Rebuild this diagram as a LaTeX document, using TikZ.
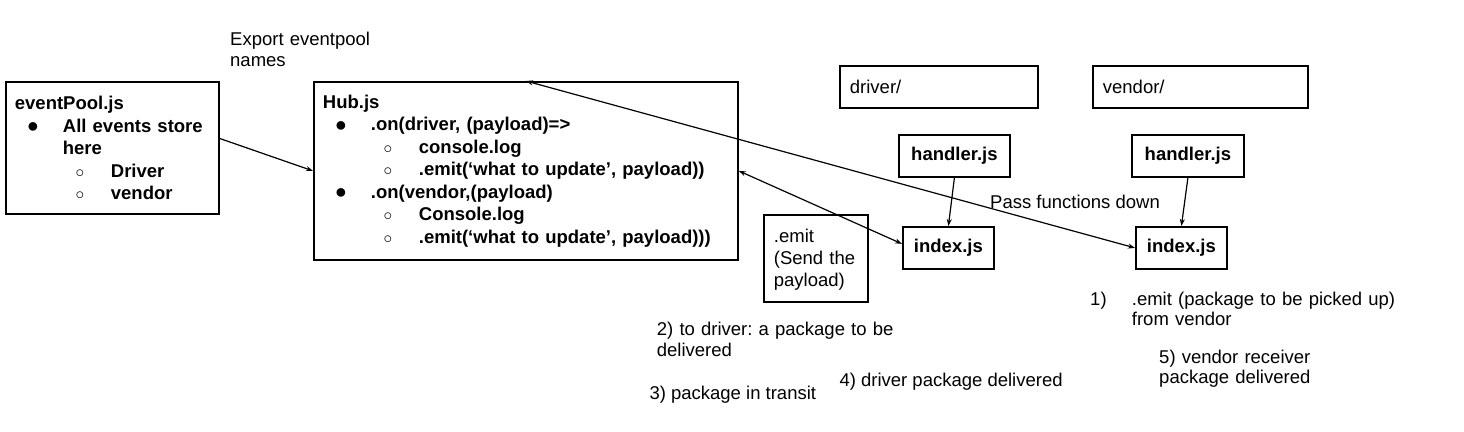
\documentclass[tikz,border=0pt]{standalone}
\usepackage{fontspec}
\setmainfont{Liberation Sans}
\usepackage{graphicx}
\usetikzlibrary{positioning,arrows.meta}
\frenchspacing

\newcommand{\bul}{\raisebox{-0.5pt}{\scalebox{1.3}{$\bullet$}}}
\newcommand{\itemA}[1]{\makebox[48pt][l]{\hspace*{13.5pt}\makebox[9pt]{\bul}}#1}
\newcommand{\itemB}[1]{\makebox[96pt][l]{\hspace*{61pt}\makebox[8pt]{$\circ$}}#1}

\tikzset{
  filebox/.style={draw, line width=1.8pt, inner sep=0pt, align=left},
  listbox/.style={filebox, anchor=north west, inner xsep=9pt,
    font=\fontsize{18.5}{22.5}\selectfont\bfseries},
  dirbox/.style={filebox, anchor=north west, minimum height=42pt,
    font=\fontsize{18.5}{21.5}\selectfont},
  jsbox/.style={filebox, anchor=north west, align=center, minimum height=42pt,
    font=\fontsize{18.5}{21.5}\selectfont\bfseries},
  note/.style={anchor=base west, inner sep=0pt, align=left,
    font=\fontsize{18.5}{21.5}\selectfont},
  link/.style={line width=1.2pt}
}

\begin{document}
\begin{tikzpicture}[x=1pt, y=-1pt, >={Stealth[length=7pt,width=5pt]}]
  \useasboundingbox (0,0) rectangle (1464,431);

  % the two list boxes
  \node[listbox, text width=195pt, minimum height=132pt] (ep) at (5,81)
    {eventPool.js\\
     \itemA{All events store}\\
     \hspace*{48pt}here\\
     \itemB{Driver}\\
     \itemB{vendor}};
  \node[listbox, text width=406pt, minimum height=178pt] (hub) at (313,81)
    {Hub.js\\
     \itemA{.on(driver, (payload)=>}\\
     \itemB{console.log}\\
     \itemB{.emit(‘what to update’, payload))}\\
     \itemA{.on(vendor,(payload)}\\
     \itemB{Console.log}\\
     \itemB{.emit(‘what to update’, payload)))}};

  % folders and files
  \node[dirbox, minimum width=198pt, text width=178pt] (drv) at (839,65) {driver/};
  \node[dirbox, minimum width=215pt, text width=195pt] (vnd) at (1092,65) {vendor/};
  \node[jsbox, minimum width=111pt] (hd) at (898,134) {handler.js};
  \node[jsbox, minimum width=112pt] (hv) at (1131,134) {handler.js};
  \node[jsbox, minimum width=91pt] (ixd) at (902,226) {index.js};
  \node[jsbox, minimum width=91pt] (ixv) at (1135,226) {index.js};
  \node[filebox, anchor=north west, minimum width=104pt, text width=84pt,
    text height=27.7pt, text depth=59.3pt,
    font=\fontsize{18.5}{21.7}\selectfont] (emit) at (763,214)
    {.emit\\(Send the\\payload)};

  % notes
  \node[note, text width=170pt] (exp) at (230,45) {Export eventpool\\names};
  \node[note] (pass) at (990,208) {Pass functions down};
  \node[note, text width=280pt] (s2) at (656.7,335)
    {2) to driver: a package to be\\delivered};
  \node[note] (s3) at (649.3,399.3) {3) package in transit};
  \node[note] (s4) at (839.3,386.7) {4) driver package delivered};
  \node[note, text width=320pt, font=\fontsize{18.5}{20.5}\selectfont] (s1) at (1090,305)
    {\makebox[41.7pt][l]{1)}.emit (package to be picked up)\\
     \hspace*{41.7pt}from vendor};
  \node[note, text width=200pt, font=\fontsize{18.5}{20.5}\selectfont] (s5) at (1159,363.3)
    {5) vendor receiver\\package delivered};

  \path[link]
    (ep.5) edge[->] (hub.west)
    (hub.east) edge[<->] (ixd.175)
    (hub.north) edge[<->] (ixv.west)
    (hd.south) edge[->] (ixd.north)
    (hv.south) edge[->] (ixv.north)
    ;
\end{tikzpicture}
\end{document}
